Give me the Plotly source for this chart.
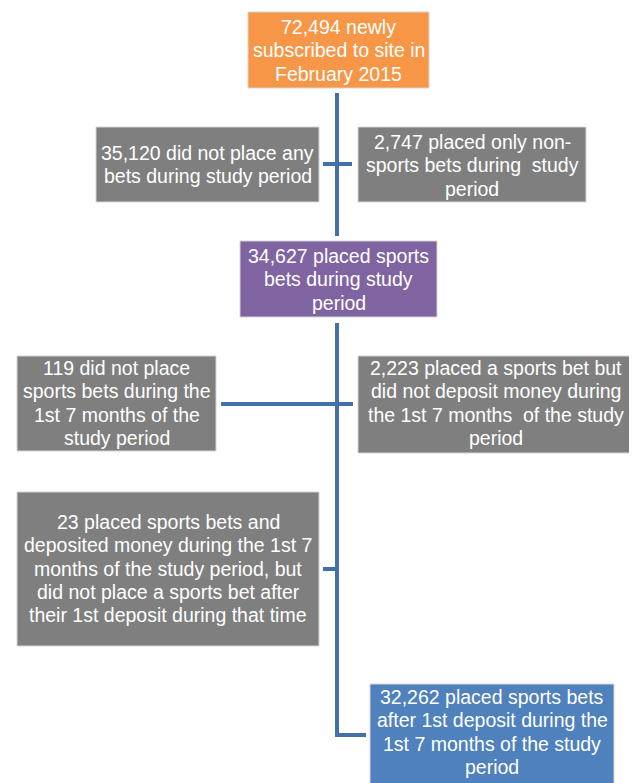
import plotly.graph_objects as go

# ---- data ----
counts = [72494, 35120, 2747, 34627, 119, 2223, 23, 32262]
labels = [
    ["{} newly", "subscribed to site in", "February 2015"],
    ["{} did not place any", "bets during study period"],
    ["{} placed only non-", "sports bets during  study", "period"],
    ["{} placed sports", "bets during study", "period"],
    ["{} did not place", "sports bets during the", "1st 7 months of the", "study period"],
    ["{} placed a sports bet but", "did not deposit money during", "the 1st 7 months  of the study", "period"],
    ["{} placed sports bets and", "deposited money during the 1st 7", "months of the study period, but",
     "did not place a sports bet after", "their 1st deposit during that time"],
    ["{} placed sports bets", "after 1st deposit during the", "1st 7 months of the study", "period"],
]
fills = ["#F79646", "#7F7F7F", "#7F7F7F", "#8064A2", "#7F7F7F", "#7F7F7F", "#7F7F7F", "#4F81BD"]

# ---- layout (pixel boxes: x0, x1, y0, y1) ----
boxes = [
    (248, 429, 12, 88),
    (96, 319, 127, 202),
    (358, 586, 127, 202),
    (240, 437, 241, 317),
    (17, 216, 356, 451),
    (358, 634, 356, 453),
    (17, 319, 492, 646),
    (370, 614, 684, 800),
]
first_line_y = [27, 153, 142, 256, 368, 368, 522, 697]
LINE_H = 23.3
connectors = [
    (337, 93, 337, 236),
    (323, 164, 352, 164),
    (337, 323, 337, 737),
    (221, 404, 353, 404),
    (323, 569, 337, 569),
    (335, 735, 366, 735),
]
LINE = "#4470AA"
OFF = 8  # page body margin compensation
W, H = 637, 783

fig = go.Figure()
shapes = []
for (x0, x1, y0, y1), c in zip(boxes, fills):
    shapes.append(dict(type="rect", xref="x", yref="y", x0=x0, x1=x1, y0=y0, y1=y1,
                       fillcolor=c, line=dict(color="#D4D4D4", width=1), layer="below"))
for (x0, y0, x1, y1) in connectors:
    shapes.append(dict(type="line", xref="x", yref="y", x0=x0, y0=y0, x1=x1, y1=y1,
                       line=dict(color=LINE, width=4)))

annotations = []
for (x0, x1, y0, y1), fy, lines, n in zip(boxes, first_line_y, labels, counts):
    for i, ln in enumerate(lines):
        txt = ln.format("{:,}".format(n)) if "{}" in ln else ln
        annotations.append(dict(x=(x0 + x1) / 2, y=fy + i * LINE_H, xref="x", yref="y", text=txt,
                                showarrow=False, xanchor="center", yanchor="middle", align="center",
                                font=dict(family="Liberation Sans Narrow, Arial Narrow, sans-serif",
                                          size=19.5, color="white")))

fig.add_trace(go.Scatter(x=[OFF, W], y=[OFF, H], mode="markers",
                         marker=dict(opacity=0), hoverinfo="skip", showlegend=False))
fig.update_layout(
    width=W - OFF, height=H - OFF, margin=dict(l=0, r=0, t=0, b=0),
    paper_bgcolor="white", plot_bgcolor="white",
    xaxis=dict(range=[OFF, W], visible=False, fixedrange=True),
    yaxis=dict(range=[H, OFF], visible=False, fixedrange=True),
    shapes=shapes, annotations=annotations, showlegend=False,
)
fig.write_html("out.html")
